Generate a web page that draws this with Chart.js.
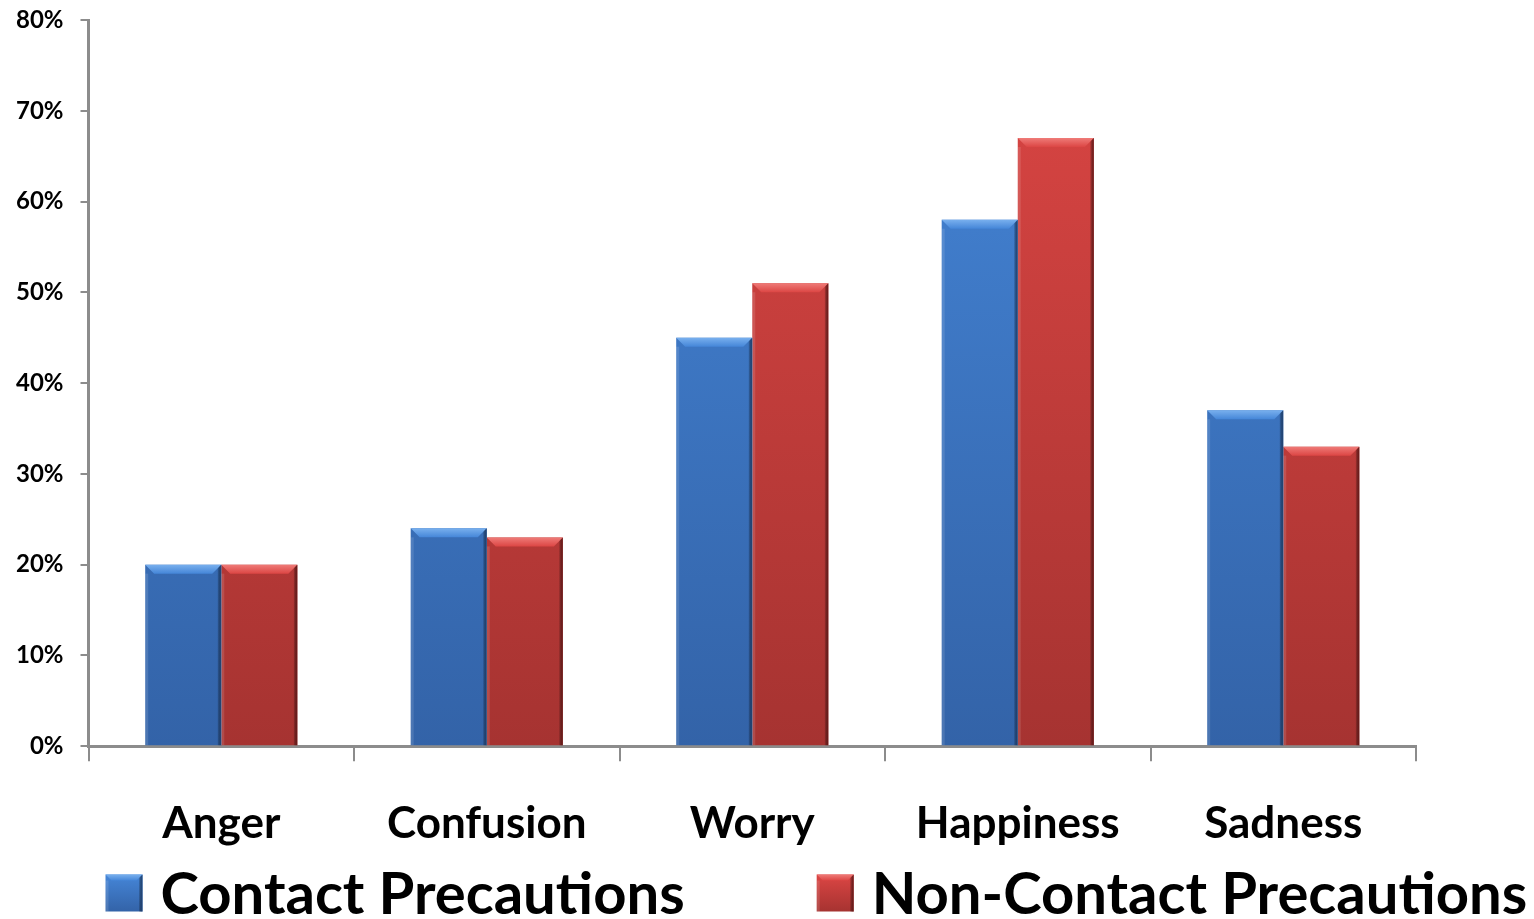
<!DOCTYPE html>
<html>
<head>
<meta charset="utf-8">
<script src="https://cdn.jsdelivr.net/npm/chart.js@4/dist/chart.umd.min.js"></script>
<style>
  html, body { margin: 0; padding: 0; background: #fff; }
  #wrap { width: 1534px; height: 919px; }
</style>
</head>
<body>
<div id="wrap"><canvas id="emotions"></canvas></div>
<script>
  const CATEGORIES = ['Anger', 'Confusion', 'Worry', 'Happiness', 'Sadness'];
  const CONTACT = [20, 24, 45, 58, 37];
  const NON_CONTACT = [20, 23, 51, 67, 33];

  const AXIS_GREY = '#8c8c8c';
  const FONT = "'Lato', 'Open Sans', sans-serif";

  const PALETTE = {
    blue: { top: '#4586d8', bottom: '#3363a8', bevel: '#79b0ee', edge: '#24497c', solid: '#3f7bcc' },
    red: { top: '#dc4644', bottom: '#a63331', bevel: '#ef7b78', edge: '#6e1c1b', solid: '#d04140' },
  };

  // vertical gradient across the plot height
  function gradientFor(p) {
    return function (ctx) {
      const chart = ctx.chart;
      const area = chart.chartArea;
      if (!area) return p.solid;
      const g = chart.ctx.createLinearGradient(0, area.top, 0, area.bottom);
      g.addColorStop(0, p.top);
      g.addColorStop(1, p.bottom);
      return g;
    };
  }

  // bevelled top and shaded right side on each bar
  function drawBevel(ctx, p, left, right, top, bottom, b) {
    ctx.save();
    ctx.beginPath();
    ctx.moveTo(left, top);
    ctx.lineTo(right, top);
    ctx.lineTo(right - b, top + b);
    ctx.lineTo(left + b, top + b);
    ctx.closePath();
    const tg = ctx.createLinearGradient(0, top, 0, top + b);
    tg.addColorStop(0, p.bevel);
    tg.addColorStop(1, p.top);
    ctx.fillStyle = tg;
    ctx.fill();

    ctx.beginPath();
    ctx.moveTo(right, top);
    ctx.lineTo(right, bottom);
    ctx.lineTo(right - 4, bottom);
    ctx.lineTo(right - 4, top + 4);
    ctx.closePath();
    const rg = ctx.createLinearGradient(right - 4, 0, right, 0);
    rg.addColorStop(0, 'rgba(0,0,0,0)');
    rg.addColorStop(1, p.edge);
    ctx.fillStyle = rg;
    ctx.fill();

    ctx.fillStyle = 'rgba(255,255,255,0.12)';
    ctx.fillRect(left, top + b, 3, bottom - top - b);
    ctx.restore();
  }

  const bevelPlugin = {
    id: 'bevel',
    afterDatasetsDraw(chart) {
      const ctx = chart.ctx;
      chart.data.datasets.forEach((ds, i) => {
        const meta = chart.getDatasetMeta(i);
        meta.data.forEach((bar) => {
          drawBevel(ctx, ds._palette,
            bar.x - bar.width / 2, bar.x + bar.width / 2, bar.y, bar.base, 9);
        });
      });
    },
  };

  // wide legend row under the category labels
  const legendRow = {
    id: 'legendRow',
    afterDraw(chart, args, opts) {
      const ctx = chart.ctx;
      const box = opts.boxSize;
      const y = chart.height - opts.bottomOffset;
      let x = chart.chartArea.left + opts.indent;
      ctx.save();
      ctx.font = `bold ${opts.fontSize}px ${FONT}`;
      ctx.textBaseline = 'middle';
      ctx.textAlign = 'left';
      chart.data.datasets.forEach((ds) => {
        const p = ds._palette;
        const top = y - box / 2;
        const g = ctx.createLinearGradient(0, top, 0, top + box);
        g.addColorStop(0, p.top);
        g.addColorStop(1, p.bottom);
        ctx.fillStyle = g;
        ctx.fillRect(x, top, box, box);
        drawBevel(ctx, p, x, x + box, top, top + box, 6);
        ctx.fillStyle = '#000';
        ctx.fillText(ds.label, x + box + opts.textGap, y + 2);
        x += box + opts.textGap + ctx.measureText(ds.label).width + opts.itemGap;
      });
      ctx.restore();
    },
  };

  new Chart(document.getElementById('emotions'), {
    type: 'bar',
    data: {
      labels: CATEGORIES,
      datasets: [
        {
          label: 'Contact Precautions',
          data: CONTACT,
          backgroundColor: gradientFor(PALETTE.blue),
          _palette: PALETTE.blue,
        },
        {
          label: 'Non-Contact Precautions',
          data: NON_CONTACT,
          backgroundColor: gradientFor(PALETTE.red),
          _palette: PALETTE.red,
        },
      ],
    },
    options: {
      responsive: true,
      maintainAspectRatio: false,
      animation: false,
      categoryPercentage: 0.573,
      barPercentage: 1,
      layout: { padding: { top: 20, right: 118, left: -1, bottom: 33 } },
      plugins: {
        tooltip: { enabled: false },
        legend: { display: false },
        legendRow: {
          boxSize: 37,
          fontSize: 58,
          textGap: 18,
          itemGap: 132,
          indent: 17,
          bottomOffset: 26,
        },
      },
      scales: {
        x: {
          grid: {
            display: true,
            drawOnChartArea: false,
            drawTicks: true,
            tickLength: 15,
            color: AXIS_GREY,
            lineWidth: 2,
          },
          border: { color: AXIS_GREY, width: 3 },
          ticks: {
            color: '#000',
            padding: 36,
            font: { family: FONT, size: 44, weight: 'bold' },
          },
        },
        y: {
          min: 0,
          max: 80,
          // the top label may sit right at the edge
          afterFit(scale) {
            scale.paddingTop = 0;
            scale.paddingBottom = 0;
          },
          grid: {
            drawOnChartArea: false,
            drawTicks: true,
            tickLength: 8,
            color: AXIS_GREY,
            lineWidth: 2,
          },
          border: { color: AXIS_GREY, width: 3 },
          ticks: {
            stepSize: 10,
            color: '#000',
            padding: 17,
            font: { family: FONT, size: 24, weight: 'bold' },
            callback: (v) => v + '%',
          },
        },
      },
    },
    plugins: [bevelPlugin, legendRow],
  });
</script>
</body>
</html>
